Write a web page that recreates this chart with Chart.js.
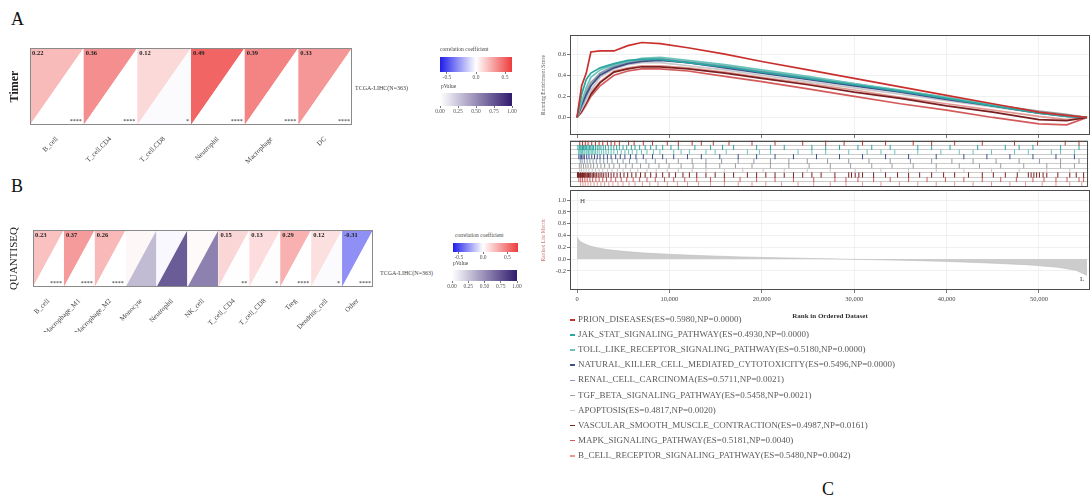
<!DOCTYPE html>
<html>
<head>
<meta charset="utf-8">
<script src="https://cdn.jsdelivr.net/npm/chart.js@4.4.1/dist/chart.umd.min.js"></script>
<style>
  body { margin: 0; background: #fff; }
  #fig { position: relative; width: 1092px; height: 502px; overflow: hidden; font-family: "Liberation Serif", serif; }
  canvas { position: absolute; }
  .t { position: absolute; white-space: nowrap; color: #444; line-height: 1; }
  .pl { position: absolute; font-size: 18px; color: #111; line-height: 1; }
  .li { position: absolute; left: 570px; font-size: 9px; color: #5a5a5a; white-space: nowrap; line-height: 10px; }
  .mk { display: inline-block; width: 5px; height: 1.5px; margin-right: 3px; vertical-align: middle; }
</style>
</head>
<body>
<div id="fig">
  <div class="pl" style="left:11px;top:10px">A</div>
  <div class="pl" style="left:11px;top:177px">B</div>
  <div class="pl" style="left:822px;top:480px">C</div>

  <canvas id="heatA" width="360" height="130" style="left:0;top:40px"></canvas>
  <canvas id="heatB" width="380" height="110" style="left:0;top:222px"></canvas>
  <div class="t" style="left:355px;top:85px;font-size:6px">TCGA-LIHC(N=363)</div>
  <div class="t" style="left:380px;top:270px;font-size:6px">TCGA-LIHC(N=363)</div>

  <div class="t" style="left:440px;top:47px;font-size:5.5px">correlation coefficient</div>
  <canvas id="barAc" width="95" height="33" style="left:430px;top:49px"></canvas>
  <div class="t" style="left:441px;top:84px;font-size:5.5px">pValue</div>
  <canvas id="barAp" width="95" height="31" style="left:430px;top:85px"></canvas>

  <div class="t" style="left:455px;top:233px;font-size:5.5px">correlation coefficient</div>
  <canvas id="barBc" width="88" height="27" style="left:443px;top:235px"></canvas>
  <div class="t" style="left:453px;top:261px;font-size:5.5px">pValue</div>
  <canvas id="barBp" width="88" height="29" style="left:442px;top:262px"></canvas>

  <canvas id="es" width="552" height="110" style="left:540px;top:30px"></canvas>
  <canvas id="hits" width="552" height="53" style="left:540px;top:137px"></canvas>
  <canvas id="ranked" width="552" height="135" style="left:540px;top:185px"></canvas>
  <div class="t" style="left:580px;top:198px;font-size:7px">H</div>
  <div class="t" style="left:1080px;top:276px;font-size:7px">L</div>
  <div id="gsLegend"></div>
</div>

<script>
const SERIF = '"Liberation Serif", "DejaVu Serif", serif';

// ---- panel A : TIMER ----
const timerCells = ['B_cell', 'T_cell.CD4', 'T_cell.CD8', 'Neutrophil', 'Macrophage', 'DC'];
const timerCorr  = [0.22, 0.36, 0.12, 0.49, 0.39, 0.33];
const timerP     = [0, 0, 0.02, 0, 0, 0];
const timerStars = ['****', '****', '*', '****', '****', '****'];

// ---- panel B : quanTIseq ----
const quanCells = ['B_cell', 'Macrophage_M1', 'Macrophage_M2', 'Monocyte', 'Neutrophil', 'NK_cell',
                   'T_cell_CD4', 'T_cell_CD8', 'Treg', 'Dendritic_cell', 'Other'];
const quanCorr  = [0.23, 0.37, 0.26, 0.03, -0.02, 0.02, 0.15, 0.13, 0.29, 0.12, -0.31];
const quanP     = [0, 0, 0, 0.30, 0.72, 0.55, 0.004, 0.01, 0, 0.02, 0];
const quanStars = ['****', '****', '****', '', '', '', '**', '*', '****', '*', '****'];

// legend scales
const corrTicks = [-0.5, 0, 0.5];
const pTicks = [0, 0.25, 0.5, 0.75, 1];

// ---- panel C : GSEA ----
const setNames = ['PRION_DISEASES', 'JAK_STAT_SIGNALING_PATHWAY', 'TOLL_LIKE_RECEPTOR_SIGNALING_PATHWAY',
  'NATURAL_KILLER_CELL_MEDIATED_CYTOTOXICITY', 'RENAL_CELL_CARCINOMA', 'TGF_BETA_SIGNALING_PATHWAY',
  'APOPTOSIS', 'VASCULAR_SMOOTH_MUSCLE_CONTRACTION', 'MAPK_SIGNALING_PATHWAY', 'B_CELL_RECEPTOR_SIGNALING_PATHWAY'];
const setES = [0.5980, 0.4930, 0.5180, 0.5496, 0.5711, 0.5458, 0.4817, 0.4987, 0.5181, 0.5480];
const setNP = [0.0000, 0.0000, 0.0000, 0.0000, 0.0021, 0.0021, 0.0020, 0.0161, 0.0040, 0.0042];
const setColors = ['#C9302C', '#2BA6A0', '#6CC3BA', '#3F4F8C', '#8C9BB0', '#9E9E9E',
                   '#C8C8C8', '#7A1F1F', '#D45A5A', '#E39A94'];

const gseaRank = [0, 500, 1000, 1500, 2500, 4000, 5500, 7000, 9000, 12000, 16000, 20000,
                  25000, 30000, 35000, 40000, 45000, 50000, 53000, 55200];
const es_PRION    = [0, 0.30, 0.42, 0.62, 0.63, 0.63, 0.68, 0.71, 0.70, 0.66, 0.60, 0.53, 0.45, 0.37, 0.29, 0.21, 0.13, 0.05, 0.02, 0];
const es_JAK      = [0, 0.22, 0.36, 0.42, 0.47, 0.51, 0.54, 0.55, 0.55, 0.52, 0.48, 0.43, 0.37, 0.31, 0.25, 0.18, 0.11, 0.04, 0.01, 0];
const es_TOLL     = [0, 0.15, 0.28, 0.38, 0.45, 0.50, 0.53, 0.56, 0.57, 0.54, 0.50, 0.45, 0.39, 0.32, 0.26, 0.19, 0.12, 0.05, 0.02, 0];
const es_NK       = [0, 0.12, 0.22, 0.30, 0.40, 0.47, 0.51, 0.53, 0.54, 0.52, 0.47, 0.42, 0.36, 0.30, 0.24, 0.17, 0.11, 0.04, 0.01, 0];
const es_RENAL    = [0, 0.10, 0.20, 0.30, 0.42, 0.49, 0.53, 0.55, 0.56, 0.53, 0.49, 0.44, 0.38, 0.32, 0.25, 0.19, 0.12, 0.05, 0.02, 0];
const es_TGF      = [0, 0.14, 0.25, 0.33, 0.42, 0.48, 0.52, 0.54, 0.55, 0.52, 0.48, 0.43, 0.37, 0.31, 0.25, 0.18, 0.12, 0.06, 0.03, 0];
const es_APOP     = [0, 0.08, 0.16, 0.26, 0.38, 0.46, 0.50, 0.52, 0.52, 0.49, 0.45, 0.40, 0.34, 0.28, 0.22, 0.16, 0.10, 0.04, 0.02, 0];
const es_VASC     = [0, 0.06, 0.14, 0.22, 0.33, 0.43, 0.46, 0.48, 0.48, 0.46, 0.42, 0.37, 0.31, 0.24, 0.18, 0.11, 0.05, -0.02, -0.03, 0];
const es_MAPK     = [0, 0.05, 0.12, 0.20, 0.30, 0.40, 0.44, 0.46, 0.46, 0.44, 0.39, 0.34, 0.27, 0.20, 0.13, 0.07, 0.00, -0.06, -0.07, 0];
const es_BCELL    = [0, 0.08, 0.16, 0.24, 0.34, 0.44, 0.47, 0.49, 0.49, 0.47, 0.43, 0.38, 0.32, 0.26, 0.19, 0.13, 0.07, 0.01, -0.02, 0];
const esCurves = [es_PRION, es_JAK, es_TOLL, es_NK, es_RENAL, es_TGF, es_APOP, es_VASC, es_MAPK, es_BCELL];
const esTicks = [0, 0.2, 0.4, 0.6];

// gene-set hit positions (rank)
const hits_PRION = [300, 600, 900, 1200, 1600, 2000, 2400, 2800, 3300, 3700, 4100, 4600, 5600, 6200, 7200, 8200, 9800, 11000, 12500,
                    13500, 14800, 16500, 19000, 21500, 24500, 27000, 29000, 31000, 33500, 36500, 38500, 41000, 44000, 47500, 50000, 53000, 54500];
const hits_JAK   = [100, 250, 350, 450, 600, 700, 850, 950, 1050, 1200, 1350, 1500, 1650, 1800, 2000, 2200, 2400, 2600, 2850, 3100,
                    3400, 3700, 4000, 4300, 4600, 5000, 5400, 5900, 6300, 6800, 7400, 8000, 8600, 9300, 10200, 11000, 12800, 14500,
                    15800, 17000, 19500, 21000, 22500, 25500, 27000, 28500, 30500, 32000, 34000, 37000, 38500, 40500, 43500, 46500,
                    48000, 49500, 52500, 54500];
const hits_TOLL  = [150, 250, 400, 500, 600, 750, 850, 1000, 1100, 1250, 1400, 1550, 1700, 1850, 2000, 2200, 2400, 2650, 2900, 3150,
                    3400, 3700, 4000, 4400, 4800, 5200, 5600, 6000, 6500, 7000, 7600, 8300, 9000, 10500, 11300, 12200, 14000, 15000,
                    16200, 18500, 19800, 21000, 24000, 25500, 27000, 29500, 31500, 33000, 34500, 37000, 39500, 41500, 43000, 45000,
                    47500, 49000, 51500, 52500, 54000];
const hits_NK    = [200, 350, 500, 650, 800, 1050, 1300, 1600, 1900, 2200, 2500, 2900, 3300, 3700, 4200, 4700, 5200, 5800, 6400, 7200,
                    8200, 9300, 10500, 12000, 13500, 15500, 17500, 19500, 21500, 23500, 26000, 28500, 31000, 33500, 36000, 39000,
                    42000, 44500, 47000, 49500, 52000, 54000];
const hits_RENAL = [350, 550, 800, 1100, 1400, 1750, 2100, 2500, 2900, 3300, 3800, 4400, 5000, 5700, 6500, 7500, 8500, 9700, 11000,
                    12500, 14000, 15700, 17500, 19200, 21000, 23000, 25000, 27200, 29500, 31700, 34000, 36200, 38500, 40700, 43000,
                    45500, 48000, 50200, 52500, 54500];
const hits_TGF   = [250, 450, 700, 950, 1200, 1500, 1800, 2200, 2600, 3000, 3500, 4000, 4600, 5300, 6000, 6900, 7800, 8900, 10000,
                    11300, 12600, 14000, 15500, 17200, 19000, 21000, 23000, 25200, 27500, 29700, 32000, 34200, 36500, 39000, 41500,
                    43700, 46000, 48500, 51000, 52500, 54000];
const hits_APOP  = [300, 500, 750, 1000, 1300, 1650, 2000, 2400, 2800, 3300, 3800, 4400, 5000, 5800, 6600, 7600, 8600, 9800, 11000,
                    12500, 14000, 16000, 18000, 20200, 22500, 25000, 27500, 30200, 33000, 36000, 39000, 42000, 45000, 48000, 51000, 53500];
const hits_VASC  = [50, 100, 150, 230, 300, 380, 450, 520, 600, 700, 800, 900, 1000, 1120, 1250, 1380, 1500, 1650, 1800, 1950,
                    2100, 2300, 2500, 2700, 2900, 3150, 3400, 3700, 4000, 4350, 4700, 5100, 5500, 5950, 6400, 6900, 7400, 8000,
                    8600, 9300, 10000, 10700, 11500, 12200, 13000, 14000, 15000, 16000, 17000, 18500, 19500, 20500, 21500, 22500,
                    23500, 24500, 25500, 26500, 28000, 29500, 29800, 30200, 30600, 31000, 32200, 33500, 34800, 36000, 37200, 38500,
                    39800, 41000, 42500, 44000, 45200, 46500, 47800, 49000, 49300, 49600, 49900, 50200, 50600, 51000, 52200, 53500,
                    54200, 55000];
const hits_MAPK  = [200, 400, 600, 850, 1100, 1400, 1700, 2050, 2400, 2800, 3200, 3700, 4200, 4800, 5400, 6100, 6800, 7600, 8500,
                    9500, 10500, 11700, 13000, 14500, 16000, 17700, 19500, 21500, 23500, 25700, 28000, 29200, 30500, 32200, 34000,
                    36000, 38000, 40000, 42000, 44000, 46000, 47700, 49500, 50700, 52000, 53200, 54500, 55000];
const hits_BCELL = [400, 650, 900, 1200, 1500, 1850, 2200, 2600, 3000, 3450, 3900, 4450, 5000, 5650, 6300, 7100, 7900, 8800, 9800,
                    10900, 12000, 13200, 14500, 16000, 17500, 19000, 20500, 22200, 24000, 25700, 27500, 29200, 31000, 33000, 35000,
                    37000, 39000, 41000, 43000, 45000, 47000, 48700, 50500, 52000, 53500, 54800];
const setHits = [hits_PRION, hits_JAK, hits_TOLL, hits_NK, hits_RENAL, hits_TGF, hits_APOP, hits_VASC, hits_MAPK, hits_BCELL];

// ranked list metric
const rankedX = [0, 300, 800, 1400, 2200, 3200, 5000, 7000, 10000, 14000, 18000, 22000, 26000, 30000, 35000, 40000, 45000, 49000, 52000, 54000, 55200];
const rankedY = [0.37, 0.30, 0.26, 0.22, 0.19, 0.16, 0.13, 0.105, 0.08, 0.055, 0.035, 0.02, 0.008, -0.005, -0.02, -0.04, -0.07, -0.10, -0.14, -0.19, -0.28];
const rankTicks = [0, 10000, 20000, 30000, 40000, 50000];
const rankedTicks = [-0.2, 0, 0.2, 0.4, 0.6, 0.8, 1.0];

// ---------- helpers ----------
const WHITE = [255, 255, 255], BLUE = [30, 30, 235], RED = [238, 60, 60], PURP = [48, 28, 110];
function mix(c1, c2, t) {
  return 'rgb(' + c1.map((a, i) => Math.round(a + (c2[i] - a) * t)).join(',') + ')';
}
function corrColor(v, lo, hi) {
  if (v < 0) return mix(WHITE, BLUE, Math.min(v / lo, 1));
  return mix(WHITE, RED, Math.min(v / hi, 1));
}
function pColor(p) { return mix(WHITE, PURP, Math.min(Math.max(p, 0), 1)); }

const framePlugin = {
  id: 'frame',
  afterDraw(chart, args, opts) {
    if (!opts.color) return;
    const a = chart.chartArea, c = chart.ctx;
    c.save();
    c.strokeStyle = opts.color; c.lineWidth = 1;
    c.strokeRect(Math.round(a.left) + 0.5, Math.round(a.top) + 0.5, Math.round(a.width) - 1, Math.round(a.height) - 1);
    c.restore();
  }
};

// split-cell heatmap: upper-left triangle = correlation, lower-right = p value
const triPlugin = {
  id: 'tri',
  afterDatasetsDraw(chart, args, opts) {
    const { ctx, scales: { x, y } } = chart;
    const corr = chart.data.datasets[0].data, pv = chart.data.datasets[1].data;
    const half = (x.getPixelForValue(1) - x.getPixelForValue(0)) / 2;
    const top = y.getPixelForValue(1), bot = y.getPixelForValue(0);
    ctx.save();
    corr.forEach((v, i) => {
      const cx = x.getPixelForValue(i), x0 = cx - half, x1 = cx + half;
      ctx.fillStyle = corrColor(v, opts.lo, opts.hi);
      ctx.beginPath(); ctx.moveTo(x0, top); ctx.lineTo(x1, top); ctx.lineTo(x0, bot); ctx.closePath(); ctx.fill();
      ctx.fillStyle = pColor(pv[i]);
      ctx.beginPath(); ctx.moveTo(x1, top); ctx.lineTo(x1, bot); ctx.lineTo(x0, bot); ctx.closePath(); ctx.fill();
      ctx.strokeStyle = 'rgba(255,255,255,0.9)'; ctx.lineWidth = 0.8;
      ctx.beginPath(); ctx.moveTo(x1, top); ctx.lineTo(x1, bot); ctx.stroke();
      const st = opts.stars[i];
      if (st) {
        ctx.fillStyle = '#222';
        ctx.font = 'bold 6.5px ' + SERIF;
        ctx.textAlign = 'left'; ctx.textBaseline = 'top';
        ctx.fillText(v.toFixed(2), x0 + 2, top + 2);
        ctx.font = '6px ' + SERIF;
        ctx.textAlign = 'right'; ctx.textBaseline = 'bottom';
        ctx.fillText(st, x1 - 2, bot - 1);
      }
    });
    ctx.restore();
  }
};

function heatChart(id, labels, corr, pval, stars, lo, hi, yTitle, titleFont, pad, yw, xh) {
  return new Chart(document.getElementById(id), {
    type: 'line',
    data: {
      labels: labels,
      datasets: [
        { data: corr, showLine: false, pointRadius: 0 },
        { data: pval, showLine: false, pointRadius: 0 }
      ]
    },
    options: {
      responsive: false, animation: false,
      layout: { padding: pad },
      plugins: {
        legend: { display: false }, tooltip: { enabled: false },
        tri: { lo: lo, hi: hi, stars: stars },
        frame: { color: '#8a8a8a' }
      },
      scales: {
        x: {
          offset: true, grid: { display: false }, border: { display: false },
          ticks: { minRotation: 45, maxRotation: 45, autoSkip: false, font: { family: SERIF, size: 7 }, color: '#444', padding: 2 },
          afterFit: s => { s.height = xh; }
        },
        y: {
          min: 0, max: 1, grid: { display: false }, border: { display: false },
          ticks: { display: false },
          title: { display: true, text: yTitle, font: titleFont, color: '#222', padding: { top: 8, bottom: 0 } },
          afterFit: s => { s.width = yw; }
        }
      }
    },
    plugins: [triPlugin, framePlugin]
  });
}

function colorBar(id, lo, hi, ticks, colorFn, fmt, pad) {
  return new Chart(document.getElementById(id), {
    type: 'scatter',
    data: { datasets: [] },
    options: {
      responsive: false, animation: false,
      layout: { padding: pad },
      plugins: { legend: { display: false }, tooltip: { enabled: false } },
      scales: {
        x: {
          type: 'linear', min: lo, max: hi,
          afterBuildTicks: s => { s.ticks = ticks.map(v => ({ value: v })); },
          ticks: { font: { family: SERIF, size: 5.5 }, color: '#555', padding: 0, maxRotation: 0, callback: fmt },
          grid: { drawOnChartArea: false, tickLength: 2, tickColor: '#777' },
          border: { display: false },
          afterFit: s => { s.height = 10; }
        },
        y: { display: false, min: 0, max: 1 }
      }
    },
    plugins: [{
      id: 'bar',
      beforeDatasetsDraw(chart) {
        const { ctx, chartArea: a, scales: { x } } = chart;
        const g = ctx.createLinearGradient(a.left, 0, a.right, 0);
        for (let k = 0; k <= 24; k++) {
          const v = lo + (hi - lo) * k / 24;
          g.addColorStop((x.getPixelForValue(v) - a.left) / (a.right - a.left), colorFn(v));
        }
        ctx.save();
        ctx.fillStyle = g;
        ctx.fillRect(a.left, a.top, a.right - a.left, a.bottom - a.top);
        ctx.restore();
      }
    }]
  });
}

// ---------- panels A / B ----------
heatChart('heatA', timerCells, timerCorr, timerP, timerStars, -0.62, 0.62, 'Timer',
  { family: SERIF, size: 12, weight: 'bold' }, { top: 8, right: 8 }, 30, 45);
heatChart('heatB', quanCells, quanCorr, quanP, quanStars, -0.62, 0.72, 'QUANTISEQ',
  { family: SERIF, size: 11 }, { top: 8, right: 7 }, 33, 45);

colorBar('barAc', -0.62, 0.62, corrTicks, v => corrColor(v, -0.62, 0.62), v => v.toFixed(1), { left: 10, right: 13, top: 8 });
colorBar('barAp', 0, 1, pTicks, pColor, v => v.toFixed(2), { left: 10, right: 13, top: 8 });
colorBar('barBc', -0.62, 0.72, corrTicks, v => corrColor(v, -0.62, 0.72), v => v.toFixed(1), { left: 10, right: 13, top: 8 });
colorBar('barBp', 0, 1, pTicks, pColor, v => v.toFixed(2), { left: 10, right: 13, top: 8 });

// ---------- panel C ----------
const xMin = -760, xMax = 55520;
const gridC = { color: '#ececec', lineWidth: 0.8, tickLength: 3, tickColor: '#555' };
const rankAxis = extra => Object.assign({
  type: 'linear', min: xMin, max: xMax,
  afterBuildTicks: s => { s.ticks = rankTicks.map(v => ({ value: v })); },
  border: { display: false }
}, extra);
const yAxisW = s => { s.width = 30; };

new Chart(document.getElementById('es'), {
  type: 'line',
  data: {
    datasets: setNames.map((n, i) => ({
      label: n,
      data: gseaRank.map((r, j) => ({ x: r, y: esCurves[i][j] })),
      borderColor: setColors[i], borderWidth: 1.7, pointRadius: 0, fill: false
    }))
  },
  options: {
    responsive: false, animation: false,
    layout: { padding: { top: 5, right: 2 } },
    plugins: { legend: { display: false }, tooltip: { enabled: false }, frame: { color: '#4d4d4d' } },
    scales: {
      x: rankAxis({ ticks: { display: false }, grid: gridC, afterFit: s => { s.height = 3; } }),
      y: {
        min: -0.167, max: 0.781,
        afterBuildTicks: s => { s.ticks = esTicks.map(v => ({ value: v })); },
        ticks: { font: { family: SERIF, size: 6.5 }, color: '#444', padding: 1, callback: v => v.toFixed(1) },
        grid: gridC, border: { display: false },
        title: { display: true, text: 'Running Enrichment Score', font: { family: SERIF, size: 5.5 }, color: '#555', padding: 0 },
        afterFit: yAxisW
      }
    }
  },
  plugins: [framePlugin]
});

new Chart(document.getElementById('hits'), {
  type: 'scatter',
  data: {
    datasets: setNames.map((n, i) => ({
      label: n,
      data: setHits[i].map(r => ({ x: r, y: i + 0.5 })),
      pointStyle: 'line', rotation: 90, radius: 2.6, pointHoverRadius: 0,
      borderColor: setColors[i], borderWidth: 1
    }))
  },
  options: {
    responsive: false, animation: false,
    layout: { padding: { right: 2 } },
    plugins: { legend: { display: false }, tooltip: { enabled: false }, frame: { color: '#4d4d4d' } },
    scales: {
      x: rankAxis({ display: false }),
      y: {
        min: 0, max: 10, reverse: true,
        ticks: { display: false, stepSize: 1 },
        grid: { color: '#a8a8a8', lineWidth: 0.6, drawTicks: false },
        border: { display: false },
        afterFit: yAxisW
      }
    }
  },
  plugins: [framePlugin]
});

new Chart(document.getElementById('ranked'), {
  type: 'line',
  data: {
    datasets: [{
      data: rankedX.map((r, j) => ({ x: r, y: rankedY[j] })),
      borderColor: '#bdbdbd', borderWidth: 0.6, backgroundColor: '#cccccc',
      fill: 'origin', pointRadius: 0
    }]
  },
  options: {
    responsive: false, animation: false,
    layout: { padding: { top: 5, right: 2 } },
    plugins: { legend: { display: false }, tooltip: { enabled: false }, frame: { color: '#4d4d4d' } },
    scales: {
      x: rankAxis({
        ticks: { font: { family: SERIF, size: 6.5 }, color: '#444', padding: 2, maxRotation: 0,
                 callback: v => v.toLocaleString('en-US') },
        grid: gridC,
        title: { display: true, text: 'Rank in Ordered Dataset', font: { family: SERIF, size: 7, weight: 'bold' }, color: '#333', padding: { top: 1, bottom: 0 } },
        afterFit: s => { s.height = 30; }
      }),
      y: {
        min: -0.525, max: 1.17,
        afterBuildTicks: s => { s.ticks = rankedTicks.map(v => ({ value: v })); },
        ticks: { font: { family: SERIF, size: 6.5 }, color: '#444', padding: 1, callback: v => v.toFixed(1) },
        grid: gridC, border: { display: false },
        title: { display: true, text: 'Ranked List Metric', font: { family: SERIF, size: 5.5 }, color: '#c97a7a', padding: 0 },
        afterFit: yAxisW
      }
    }
  },
  plugins: [framePlugin]
});

// gene-set legend under panel C
const legendBox = document.getElementById('gsLegend');
setNames.forEach((n, i) => {
  const d = document.createElement('div');
  d.className = 'li';
  d.style.top = (314 + i * 15.1) + 'px';
  d.innerHTML = '<span class="mk" style="background:' + setColors[i] + '"></span>' +
    n + '(ES=' + setES[i].toFixed(4) + ',NP=' + setNP[i].toFixed(4) + ')';
  legendBox.appendChild(d);
});
</script>
</body>
</html>
